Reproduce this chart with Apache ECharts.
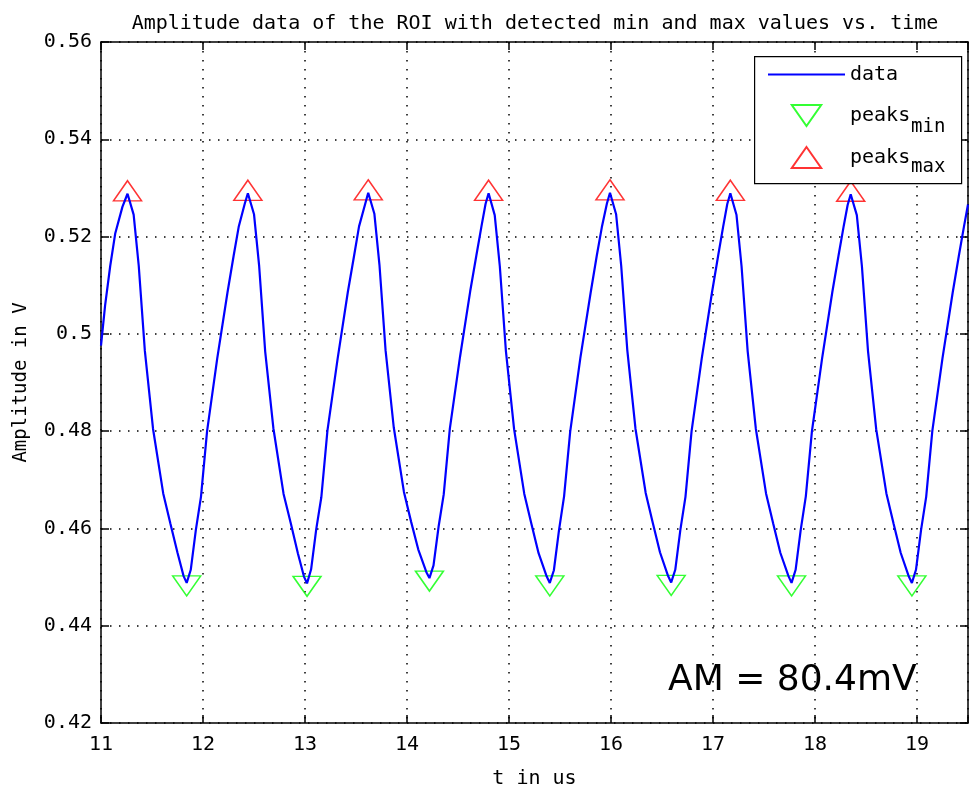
<!DOCTYPE html>
<html>
<head>
<meta charset="utf-8">
<script src="https://cdn.jsdelivr.net/npm/echarts@6/dist/echarts.min.js"></script>
<style>
  html, body { margin: 0; padding: 0; background: #fff; }
  #chart { width: 975px; height: 794px; }
</style>
</head>
<body>
<div id="chart"></div>
<script>
// time axis (us) and amplitude (V)
const tData = [
  11.00, 11.04, 11.09, 11.14, 11.21,
  11.26, 11.32, 11.37, 11.43, 11.51, 11.61, 11.68, 11.75, 11.81,
  11.84, 11.88, 11.93, 11.98, 12.04, 12.14, 12.24, 12.30, 12.35, 12.41,
  12.44, 12.50, 12.55, 12.61, 12.69, 12.79, 12.86, 12.93, 12.99,
  13.02, 13.06, 13.11, 13.16, 13.22, 13.32, 13.42, 13.48, 13.53, 13.59,
  13.62, 13.68, 13.73, 13.79, 13.87, 13.97, 14.04, 14.11, 14.19,
  14.22, 14.26, 14.31, 14.36, 14.42, 14.52, 14.62, 14.68, 14.73, 14.77,
  14.80, 14.86, 14.91, 14.97, 15.05, 15.15, 15.22, 15.29, 15.37,
  15.40, 15.44, 15.49, 15.54, 15.60, 15.70, 15.80, 15.86, 15.91, 15.96,
  15.99, 16.05, 16.10, 16.16, 16.24, 16.34, 16.41, 16.48, 16.56,
  16.59, 16.63, 16.68, 16.73, 16.79, 16.89, 16.99, 17.05, 17.10, 17.14,
  17.17, 17.23, 17.28, 17.34, 17.42, 17.52, 17.59, 17.66, 17.74,
  17.77, 17.81, 17.86, 17.91, 17.97, 18.07, 18.17, 18.23, 18.28, 18.32,
  18.35, 18.41, 18.46, 18.52, 18.60, 18.70, 18.77, 18.84, 18.92,
  18.95, 18.99, 19.04, 19.09, 19.15, 19.25, 19.35, 19.41, 19.46, 19.50
]
const vData = [
  0.4976, 0.5058, 0.5139, 0.5207, 0.5261,
  0.5288, 0.5245, 0.5140, 0.4965, 0.4805, 0.4672, 0.4610, 0.4550, 0.4502,
  0.4488, 0.4515, 0.4597, 0.4665, 0.4800, 0.4950, 0.5085, 0.5160, 0.5220, 0.5268,
  0.5289, 0.5246, 0.5141, 0.4963, 0.4806, 0.4671, 0.4611, 0.4549, 0.4501,
  0.4487, 0.4516, 0.4598, 0.4664, 0.4801, 0.4949, 0.5086, 0.5159, 0.5221, 0.5267,
  0.5290, 0.5247, 0.5142, 0.4966, 0.4808, 0.4675, 0.4614, 0.4557, 0.4510,
  0.4498, 0.4524, 0.4604, 0.4670, 0.4805, 0.4953, 0.5088, 0.5161, 0.5221, 0.5267,
  0.5289, 0.5244, 0.5139, 0.4964, 0.4804, 0.4671, 0.4609, 0.4549, 0.4501,
  0.4488, 0.4514, 0.4596, 0.4666, 0.4799, 0.4951, 0.5084, 0.5160, 0.5219, 0.5268,
  0.5290, 0.5246, 0.5140, 0.4966, 0.4805, 0.4673, 0.4611, 0.4551, 0.4502,
  0.4489, 0.4515, 0.4597, 0.4665, 0.4800, 0.4950, 0.5085, 0.5160, 0.5221, 0.5267,
  0.5289, 0.5245, 0.5139, 0.4964, 0.4805, 0.4672, 0.4610, 0.4550, 0.4502,
  0.4488, 0.4515, 0.4597, 0.4666, 0.4800, 0.4950, 0.5086, 0.5160, 0.5220, 0.5265,
  0.5287, 0.5244, 0.5139, 0.4964, 0.4804, 0.4672, 0.4610, 0.4550, 0.4501,
  0.4488, 0.4515, 0.4597, 0.4665, 0.4800, 0.4950, 0.5085, 0.5160, 0.5220, 0.5266
]

// detected peaks
const peakMaxT = [11.26, 12.44, 13.62, 14.80, 15.99, 17.17, 18.35]
const peakMaxV = [0.5288, 0.5289, 0.5290, 0.5289, 0.5290, 0.5289, 0.5287]
const peakMinT = [11.84, 13.02, 14.22, 15.40, 16.59, 17.77, 18.95]
const peakMinV = [0.4488, 0.4487, 0.4498, 0.4488, 0.4489, 0.4488, 0.4488]

// tick labels
const xTickValues = [11, 12, 13, 14, 15, 16, 17, 18, 19]
const xTickLabels = ['11', '12', '13', '14', '15', '16', '17', '18', '19']
const yTickValues = [0.42, 0.44, 0.46, 0.48, 0.50, 0.52, 0.54, 0.56]
const yTickLabels = ['0.42', '0.44', '0.46', '0.48', '0.5', '0.52', '0.54', '0.56']

const amText = 'AM = 80.4mV'

const mono = 'DejaVu Sans Mono'
const triUp = 'path://M14,0L28,20L0,20Z'
const triDown = 'path://M0,0L28,0L14,20Z'
const lineIcon = 'path://M0,0L77,0L77,2L0,2Z'

function labelFor(values, labels, v) {
    for (let i = 0; i < values.length; i++) {
        if (Math.abs(values[i] - v) < 1e-6) return labels[i]
    }
    return ''
}

const mChart = echarts.init(document.getElementById('chart'))

const axisLine = { show: true, lineStyle: { color: '#000', width: 1.5 } }
const axisTick = { show: true, inside: true, length: 8, lineStyle: { color: '#000', width: 1.5 } }
const gridDots = { show: true, lineStyle: { color: '#000', width: 1.5, type: [1.5, 7.5] } }

const option = {
    animation: false,
    backgroundColor: '#fff',
    title: {
        text: 'Amplitude data of the ROI with detected min and max values vs. time',
        left: 530,
        textAlign: 'center',
        top: 9,
        textStyle: { fontFamily: mono, fontSize: 20, fontWeight: 'normal', color: '#000' }
    },
    grid: { left: 101, right: 7, top: 42, bottom: 69 },
    // x 轴
    xAxis: [
        {
            type: 'value', min: 11, max: 19.5, interval: 1, position: 'bottom',
            name: 't in us', nameLocation: 'middle', nameGap: 46,
            nameTextStyle: { fontFamily: mono, fontSize: 20, color: '#000' },
            axisLine: axisLine, axisTick: axisTick,
            axisLabel: {
                color: '#000', fontFamily: mono, fontSize: 20, margin: 12,
                formatter: v => labelFor(xTickValues, xTickLabels, v)
            },
            splitLine: gridDots
        },
        {
            type: 'value', min: 11, max: 19.5, interval: 1, position: 'top',
            axisLine: axisLine, axisTick: axisTick,
            axisLabel: { show: false }, splitLine: { show: false }
        }
    ],
    // y 轴
    yAxis: [
        {
            type: 'value', min: 0.42, max: 0.56, interval: 0.02, position: 'left',
            name: 'Amplitude in V', nameLocation: 'middle', nameGap: 70,
            nameTextStyle: { fontFamily: mono, fontSize: 19, color: '#000' },
            axisLine: axisLine, axisTick: axisTick,
            axisLabel: {
                color: '#000', fontFamily: mono, fontSize: 20, margin: 9,
                formatter: v => labelFor(yTickValues, yTickLabels, v)
            },
            splitLine: gridDots
        },
        {
            type: 'value', min: 0.42, max: 0.56, interval: 0.02, position: 'right',
            axisLine: axisLine, axisTick: axisTick,
            axisLabel: { show: false }, splitLine: { show: false }
        }
    ],
    legend: {
        orient: 'vertical',
        left: 768,
        top: 64,
        padding: 0,
        itemGap: 19,
        itemWidth: 77,
        itemHeight: 21,
        data: [
            { name: 'data', icon: lineIcon },
            { name: 'peaks_min' },
            { name: 'peaks_max' }
        ],
        formatter: name => name.split('_')[0],
        textStyle: { color: '#000', fontFamily: mono, fontSize: 20, lineHeight: 21 }
    },
    graphic: [
        {
            type: 'rect', left: 754, top: 56, z: 3,
            shape: { width: 207, height: 127 },
            style: { fill: '#fff', stroke: '#000', lineWidth: 1.2 }
        },
        {
            type: 'text', left: 911, top: 118, z: 5,
            style: { text: 'min', fill: '#000', font: '19px "DejaVu Sans Mono"' }
        },
        {
            type: 'text', left: 911, top: 158, z: 5,
            style: { text: 'max', fill: '#000', font: '19px "DejaVu Sans Mono"' }
        },
        {
            type: 'text', left: 668, top: 663, z: 5,
            style: { text: amText, fill: '#000', font: '36px "DejaVu Sans"' }
        }
    ],
    // 图表配置
    series: [
        {
            name: 'data',
            type: 'line',
            symbol: 'none',
            lineStyle: { color: '#0000ff', width: 2.2 },
            itemStyle: { color: '#0000ff' },
            data: tData.map((t, i) => [t, vData[i]])
        },
        {
            name: 'peaks_min',
            type: 'scatter',
            symbol: triDown,
            symbolSize: [28, 20],
            symbolOffset: [0, 3],
            itemStyle: { color: 'rgba(0,0,0,0)', borderColor: '#00ff00', borderWidth: 1.5 },
            data: peakMinT.map((t, i) => [t, peakMinV[i]])
        },
        {
            name: 'peaks_max',
            type: 'scatter',
            symbol: triUp,
            symbolSize: [28, 20],
            symbolOffset: [0, -3],
            itemStyle: { color: 'rgba(0,0,0,0)', borderColor: '#ff0000', borderWidth: 1.5 },
            data: peakMaxT.map((t, i) => [t, peakMaxV[i]])
        }
    ]
}
mChart.setOption(option)
</script>
</body>
</html>
